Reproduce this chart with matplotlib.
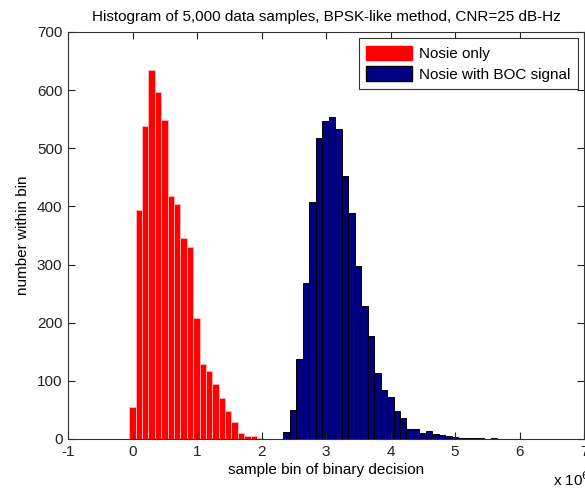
import matplotlib
matplotlib.use("Agg")
import matplotlib.pyplot as plt
from matplotlib.patches import Patch

plt.rcParams['font.family'] = ['Liberation Sans', 'DejaVu Sans']
plt.rcParams['axes.unicode_minus'] = False

# Bin centres in units of 1e6
noise_start = 0.0
noise_width = 0.099
noise_counts = [55, 394, 538, 634, 597, 548, 418, 404, 345, 330, 208,
                129, 117, 95, 70, 49, 29, 10, 5, 5, 1]

boc_start = 2.39
boc_width = 0.1004
boc_counts = [12, 50, 138, 269, 408, 518, 547, 553, 534, 453, 388, 298,
              229, 177, 114, 84, 73, 49, 36, 18, 18, 11, 14, 9, 7, 5, 3,
              2, 2, 2, 1, 0, 2]

noise_centers = [noise_start + i * noise_width for i in range(len(noise_counts))]
boc_centers = [boc_start + i * boc_width for i in range(len(boc_counts))]

title = "Histogram of 5,000 data samples, BPSK-like method, CNR=25 dB-Hz"
xlabel = "sample bin of binary decision"
ylabel = "number within bin"
legend_labels = ["Nosie only", "Nosie with BOC signal"]
xticks = [-1, 0, 1, 2, 3, 4, 5, 6, 7]
yticks = [0, 100, 200, 300, 400, 500, 600, 700]

fig = plt.figure(figsize=(5.85, 4.92), dpi=100)
ax = fig.add_axes([68/585, 53/492, (584-68)/585, (439-32)/492])

red = '#ff0000'
navy = '#000080'
ax.bar(noise_centers, noise_counts, width=noise_width, color=red,
       edgecolor='#ffb0b0', linewidth=0.7, align='center')
ax.bar(boc_centers, boc_counts, width=boc_width, color=navy,
       edgecolor='black', linewidth=0.7, align='center')

ax.set_xlim(-1, 7)
ax.set_ylim(0, 700)
ax.set_xticks(xticks)
ax.set_yticks(yticks)
ax.tick_params(direction='in', top=True, right=True, length=5, width=0.8,
               labelsize=11, pad=4, colors='#222222')
for s in ax.spines.values():
    s.set_linewidth(0.8)
    s.set_color('#333333')

ax.set_title(title, fontsize=11, pad=8)
ax.set_xlabel(xlabel, fontsize=11, labelpad=3)
ax.set_ylabel(ylabel, fontsize=11, labelpad=5)
fig.text(553/585, 1 - 489/492, r"x 10$^{6}$", fontsize=11, ha='left', va='bottom')

handles = [Patch(facecolor=red, edgecolor=red, label=legend_labels[0]),
           Patch(facecolor=navy, edgecolor='black', label=legend_labels[1])]
leg = ax.legend(handles=handles, loc='upper right', fontsize=11,
                fancybox=False, framealpha=1, edgecolor='#333333',
                handlelength=3.0, handleheight=1.05, handletextpad=0.45,
                borderpad=0.5, labelspacing=0.35, borderaxespad=0.4)
leg.get_frame().set_linewidth(0.8)

fig.savefig("out.png", dpi=100)
